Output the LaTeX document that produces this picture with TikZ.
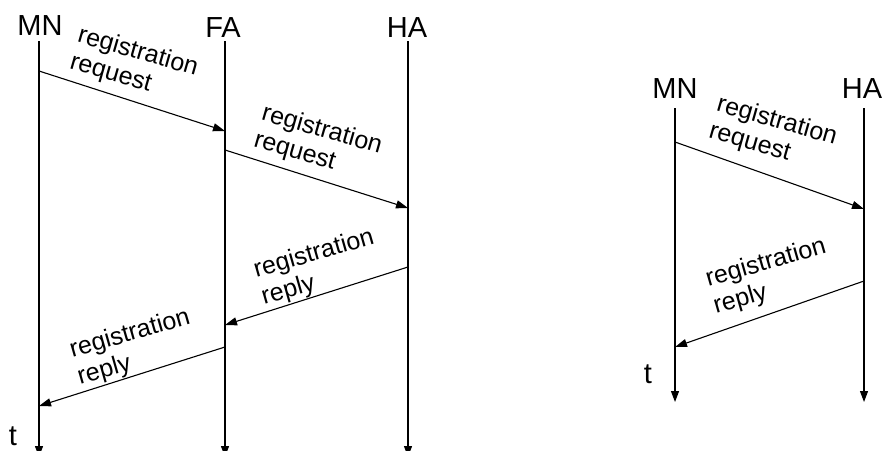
\documentclass[tikz,border=0pt]{standalone}
\usepackage{fontspec}
\setmainfont{Liberation Sans}
\usetikzlibrary{arrows.meta}
\begin{document}
\begin{tikzpicture}[x=1pt,y=-1pt,
  life/.style={line width=1.2pt,-{Triangle[length=11pt,width=8pt]}},
  msg/.style={line width=1.1pt,-{Triangle[length=12pt,width=8pt]}},
  ent/.style={font=\fontsize{29}{31}\selectfont, anchor=base, inner sep=0pt},
  lbl/.style={font=\fontsize{25}{28}\selectfont, align=left, inner sep=0pt},
]
\useasboundingbox (0,0) rectangle (882,450);

% ---- three-party exchange: MN, FA, HA ----
\node[ent] (mn1) at (40,35) {MN};
\node[ent] (fa1) at (223,37) {FA};
\node[ent] (ha1) at (407,37) {HA};
\node[ent] (t1) at (13,445) {t};

\coordinate (mn1top) at (39,41);   \coordinate (mn1bot) at (39,457);
\coordinate (fa1top) at (225,41);  \coordinate (fa1bot) at (225,457);
\coordinate (ha1top) at (408,41);  \coordinate (ha1bot) at (408,457);
\draw[life] (mn1top) -- (mn1bot);
\draw[life] (fa1top) -- (fa1bot);
\draw[life] (ha1top) -- (ha1bot);

\coordinate (m1a) at (39,71);   \coordinate (m1b) at (225,131);
\coordinate (m2a) at (225,150); \coordinate (m2b) at (408,208);
\coordinate (m3a) at (408,267); \coordinate (m3b) at (225,325);
\coordinate (m4a) at (225,347); \coordinate (m4b) at (39,406);
\draw[msg] (m1a) -- (m1b);
\draw[msg] (m2a) -- (m2b);
\draw[msg] (m3a) -- (m3b);
\draw[msg] (m4a) -- (m4b);

\node[lbl, rotate=-16] (l1) at (134,66) {registration\\request};
\node[lbl, rotate=-16] (l2) at (318,144) {registration\\request};
\node[lbl, rotate=16] (l3) at (318,268) {registration\\reply};
\node[lbl, rotate=16] (l4) at (134,348) {registration\\reply};

% ---- direct exchange: MN, HA ----
\node[ent] (mn2) at (675,98) {MN};
\node[ent] (ha2) at (862,98) {HA};
\node[ent] (t2) at (648,383) {t};

\coordinate (mn2top) at (675,108); \coordinate (mn2bot) at (675,402);
\coordinate (ha2top) at (864,108); \coordinate (ha2bot) at (864,402);
\draw[life] (mn2top) -- (mn2bot);
\draw[life] (ha2top) -- (ha2bot);

\coordinate (r1a) at (675,142); \coordinate (r1b) at (864,209);
\coordinate (r2a) at (864,281); \coordinate (r2b) at (675,347);
\draw[msg] (r1a) -- (r1b);
\draw[msg] (r2a) -- (r2b);

\node[lbl, rotate=-16] (l5) at (773,135) {registration\\request};
\node[lbl, rotate=16] (l6) at (770,277) {registration\\reply};
\end{tikzpicture}
\end{document}
